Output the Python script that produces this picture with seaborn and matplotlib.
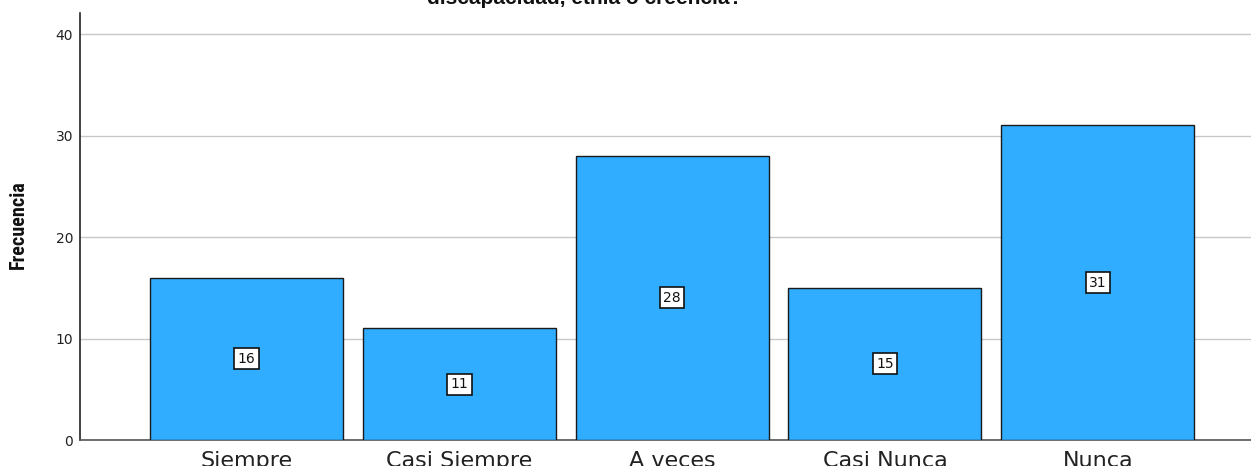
import matplotlib
matplotlib.use("Agg")
import matplotlib.pyplot as plt
import seaborn as sns
import pandas as pd
from matplotlib import font_manager

categorias = ["Siempre", "Casi Siempre", "A veces", "Casi Nunca", "Nunca"]
frecuencias = [16, 11, 28, 15, 31]
y_ticks = [0, 10, 20, 30, 40]

sns.set_style("white")
plt.rcParams['font.family'] = ['DejaVu Sans']

names = {f.name for f in font_manager.fontManager.ttflist}
narrow = 'Liberation Sans'
label_size = 12.5
for cand in ['Liberation Sans Narrow', 'DejaVu Sans Condensed', 'Roboto Condensed']:
    if cand in names:
        narrow = cand
        label_size = 14.5
        break

df = pd.DataFrame({"cat": categorias, "freq": frecuencias})

fig = plt.figure(figsize=(12.51, 4.66), dpi=100)
ax = fig.add_axes([80/1251, 1 - 440/466, (1251-80)/1251, (440-13)/466])

sns.barplot(data=df, x="cat", y="freq", color="#30adff", saturation=1,
            edgecolor="#1a1a1a", linewidth=1.0, width=0.907, ax=ax, zorder=3)

ax.set_ylim(0, 42.07)
ax.set_xlim(-0.783, 4.72)
ax.set_yticks(y_ticks)
ax.set_yticklabels([str(t) for t in y_ticks], fontsize=10, color="#222222")
ax.yaxis.grid(True, color="#c8c8c8", linewidth=1.0, zorder=0)
ax.set_axisbelow(True)
ax.tick_params(axis="both", length=0)
ax.tick_params(axis="y", pad=5)
ax.tick_params(axis="x", pad=8)
ax.set_xticks(range(len(categorias)))
ax.set_xticklabels(categorias, fontsize=16, color="#222222")
ax.set_xlabel("")
ax.set_ylabel("Frecuencia", fontsize=label_size, fontweight="bold", color="#111111",
              family=narrow, labelpad=0)
ax.yaxis.set_label_coords(-52/1171, (440-225)/427)

for s in ["top", "right"]:
    ax.spines[s].set_visible(False)
ax.spines["left"].set_color("#222222")
ax.spines["left"].set_linewidth(1.2)
ax.spines["bottom"].set_color("#555555")
ax.spines["bottom"].set_linewidth(1.2)

for i, v in enumerate(frecuencias):
    ax.text(i, v / 2, str(v), ha="center", va="center", fontsize=10, color="#111111",
            zorder=5, bbox=dict(boxstyle="square,pad=0.25", facecolor="white",
                                edgecolor="#111111", linewidth=1.2))

fig.text(585/1251, 1 - 4/466, "¿Ha sido discriminado por su género, edad,\ndiscapacidad, etnia o creencia?",
         ha="center", va="baseline", fontsize=15, fontweight="bold", color="#111111",
         family="Liberation Sans", multialignment="center")

fig.savefig("out.png", dpi=100)
